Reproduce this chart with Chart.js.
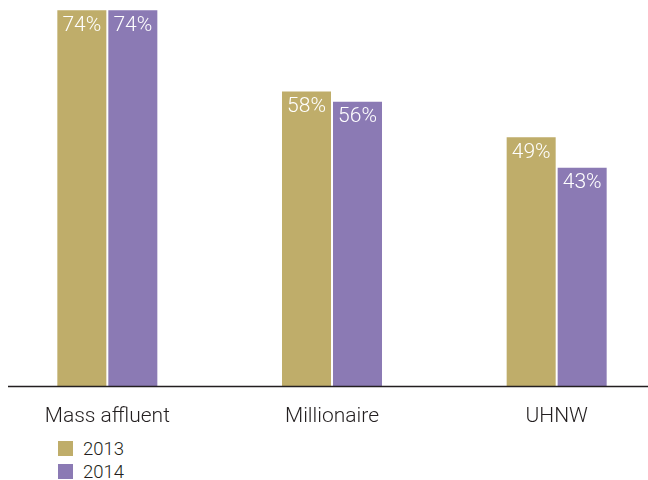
<!DOCTYPE html>
<html>
<head>
<meta charset="utf-8">
<script src="https://cdn.jsdelivr.net/npm/chart.js@4/dist/chart.umd.min.js"></script>
<style>
  html, body { margin: 0; padding: 0; background: #fff; overflow: hidden; }
  #wrap { position: relative; width: 648px; height: 480px; overflow: hidden; }
  #wealth-chart { position: absolute; left: -5px; top: 0; }
  #legend { position: absolute; left: 58px; top: 437px; font-family: Roboto, "Liberation Sans", sans-serif; font-weight: 300; font-size: 18.5px; color: #231f20; }
  .item { display: flex; align-items: center; height: 23px; }
  .swatch { width: 15px; height: 15px; margin-right: 10px; }
</style>
</head>
<body>
<div id="wrap">
  <canvas id="wealth-chart" width="674" height="430"></canvas>
  <div id="legend"></div>
</div>
<script>
const categories = ['Mass affluent', 'Millionaire', 'UHNW'];
const years = ['2013', '2014'];
const values2013 = [74, 58, 49];
const values2014 = [74, 56, 43];
const yearColors = ['rgb(191, 173, 106)', 'rgb(139, 122, 180)'];
const yMax = 76;

const labelFont = 'Roboto, "Liberation Sans", sans-serif';

// white percentage text just inside the top of every bar
const valueLabels = {
    id: 'valueLabels',
    afterDatasetsDraw(chart) {
        let ctx = chart.ctx;
        ctx.save();
        ctx.fillStyle = '#fff';
        ctx.font = '300 21px ' + labelFont;
        ctx.textAlign = 'center';
        ctx.textBaseline = 'alphabetic';
        chart.data.datasets.forEach(function(ds, i) {
            chart.getDatasetMeta(i).data.forEach(function(bar, j) {
                ctx.fillText(ds.data[j] + '%', bar.x, bar.y + 20.5);
            });
        });
        ctx.restore();
    }
};

// baseline under the bars, starting a little in from the left edge
const baseline = {
    id: 'baseline',
    afterDraw(chart) {
        let ctx = chart.ctx;
        let y = chart.chartArea.bottom;
        ctx.save();
        ctx.strokeStyle = '#231f20';
        ctx.lineWidth = 1.5;
        ctx.beginPath();
        ctx.moveTo(13, y);
        ctx.lineTo(chart.width, y);
        ctx.stroke();
        ctx.restore();
    }
};

let wealthChart = new Chart(document.getElementById('wealth-chart').getContext('2d'), {
    type: 'bar',
    data: {
        labels: categories,
        datasets: [{
            label: years[0],
            data: values2013,
            backgroundColor: yearColors[0]
        }, {
            label: years[1],
            data: values2014,
            backgroundColor: yearColors[1]
        }]
    },
    options: {
        responsive: false,
        animation: false,
        maintainAspectRatio: false,
        layout: { padding: 0 },
        categoryPercentage: 0.454,
        barPercentage: 0.961,
        plugins: {
            legend: { display: false },
            tooltip: { enabled: false }
        },
        scales: {
            x: {
                grid: { display: false },
                border: { display: false },
                ticks: {
                    color: '#231f20',
                    padding: 10,
                    font: { family: labelFont, size: 21, weight: 300 }
                },
                afterFit(scale) {
                    scale.height = 43.5;
                }
            },
            y: {
                display: false,
                min: 0,
                max: yMax
            }
        }
    },
    plugins: [valueLabels, baseline]
});

// legend built from the datasets
let legend = document.getElementById('legend');
wealthChart.data.datasets.forEach(function(ds) {
    let item = document.createElement('div');
    item.className = 'item';
    let swatch = document.createElement('span');
    swatch.className = 'swatch';
    swatch.style.background = ds.backgroundColor;
    let text = document.createElement('span');
    text.textContent = ds.label;
    item.appendChild(swatch);
    item.appendChild(text);
    legend.appendChild(item);
});
</script>
</body>
</html>
